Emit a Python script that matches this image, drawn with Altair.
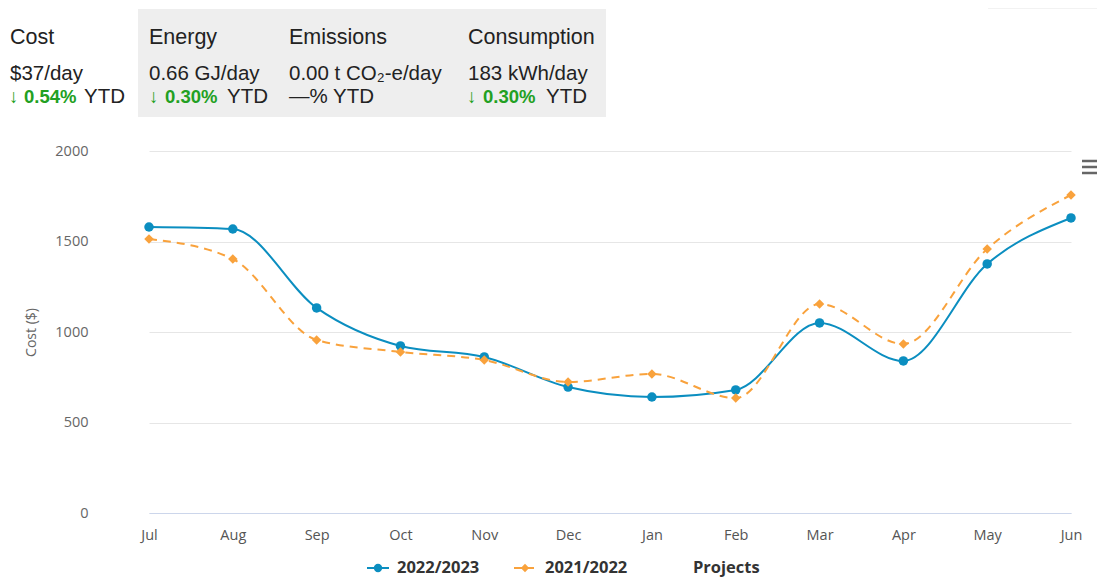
import altair as alt
import pandas as pd

months = ["Jul", "Aug", "Sep", "Oct", "Nov", "Dec", "Jan", "Feb", "Mar", "Apr", "May", "Jun"]
cost_2223 = [1580, 1569, 1133, 923, 862, 696, 641, 680, 1050, 840, 1376, 1630]
cost_2122 = [1514, 1403, 956, 890, 845, 724, 768, 635, 1155, 934, 1459, 1757]
series_names = ["2022/2023", "2021/2022"]
colors = ["#0b8ec0", "#f9a23c"]

df = pd.DataFrame(
    [{"month": m, "cost": v, "series": series_names[0]} for m, v in zip(months, cost_2223)]
    + [{"month": m, "cost": v, "series": series_names[1]} for m, v in zip(months, cost_2122)]
)

PAD_L, PAD_T, W, H = 100, 143, 989, 362
PAD_R, PAD_B = 0, 571 - 143 - 362


def px(x):  # page x -> plot x
    return x - 8 - PAD_L


def py(y):  # page y -> plot y
    return y - 8 - PAD_T


xenc = alt.X(
    "month:N", sort=months,
    scale=alt.Scale(type="point", range=[px(149), px(1071)], padding=0),
    axis=alt.Axis(title=None, labelAngle=0, labelFont="Open Sans", labelFontSize=14.5,
                  labelColor="#555555", domainColor="#ccd6eb", ticks=False,
                  labelPadding=15, grid=False),
)
yenc = alt.Y(
    "cost:Q", scale=alt.Scale(domain=[0, 2000], nice=False),
    axis=alt.Axis(title="Cost ($)", values=[0, 500, 1000, 1500, 2000], format="d",
                  labelFont="Open Sans", labelFontSize=14.5, labelColor="#666666",
                  titleFont="Open Sans", titleFontSize=14, titleFontWeight="normal",
                  titleColor="#666666", titlePadding=16, domain=False, ticks=False,
                  labelPadding=20, gridColor="#e6e6e6"),
)

base = alt.Chart(df)

blue = base.transform_filter(alt.datum.series == series_names[0])
orange = base.transform_filter(alt.datum.series == series_names[1])

blue_line = blue.mark_line(interpolate="monotone", strokeWidth=2, color=colors[0]).encode(x=xenc, y=yenc)
blue_pts = blue.mark_point(shape="circle", filled=True, size=90, opacity=1, color=colors[0]).encode(x=xenc, y=yenc)
orange_line = orange.mark_line(interpolate="monotone", strokeWidth=2, strokeDash=[8, 6],
                               color=colors[1]).encode(x=xenc, y=yenc)
orange_pts = orange.mark_point(shape="diamond", filled=True, size=90, opacity=1,
                               color=colors[1]).encode(x=xenc, y=yenc)

one = alt.Chart(pd.DataFrame({"k": [0]}))

# Header KPI panel
box = one.mark_rect(color="#eeeeee").encode(
    x=alt.value(px(138)), x2=alt.value(px(606)), y=alt.value(py(9)), y2=alt.value(py(117)))

header_texts = [
    # text, page x, page baseline y, size, weight, color
    ("Cost", 10, 44, 21.5, "normal", "#222222"),
    ("Energy", 149, 44, 21.5, "normal", "#222222"),
    ("Emissions", 289, 44, 21.5, "normal", "#222222"),
    ("Consumption", 468, 44, 21.5, "normal", "#222222"),
    ("$37/day", 10, 80, 20.5, "normal", "#222222"),
    ("0.66 GJ/day", 149, 80, 20.5, "normal", "#222222"),
    ("0.00 t CO₂-e/day", 289, 80, 20.5, "normal", "#222222"),
    ("183 kWh/day", 468, 80, 20.5, "normal", "#222222"),
    ("↓", 9, 103, 19, "normal", "#22a022"),
    ("0.54%", 24, 103, 18.5, "bold", "#22a022"),
    ("YTD", 84, 103, 20.5, "normal", "#222222"),
    ("↓", 149, 103, 19, "normal", "#22a022"),
    ("0.30%", 165, 103, 18.5, "bold", "#22a022"),
    ("YTD", 227, 103, 20.5, "normal", "#222222"),
    ("—% YTD", 289, 103, 20.5, "normal", "#222222"),
    ("↓", 467, 103, 19, "normal", "#22a022"),
    ("0.30%", 483, 103, 18.5, "bold", "#22a022"),
    ("YTD", 546, 103, 20.5, "normal", "#222222"),
]
header_layers = [
    one.mark_text(text=t, align="left", baseline="alphabetic", font="Liberation Sans",
                  fontSize=s, fontWeight=w, color=c).encode(x=alt.value(px(x)), y=alt.value(py(y)))
    for t, x, y, s, w, c in header_texts
]

top_rule = one.mark_rule(color="#e6e6e6", strokeWidth=1).encode(
    x=alt.value(px(988)), x2=alt.value(px(1097)), y=alt.value(py(8)))

menu = [
    one.mark_rule(color="#666666", strokeWidth=2.5).encode(
        x=alt.value(px(1082)), x2=alt.value(px(1097)), y=alt.value(py(yy)))
    for yy in (161, 167, 173)
]

# Legend
LY = 568
legend_layers = [
    one.mark_rule(color=colors[0], strokeWidth=2).encode(
        x=alt.value(px(367)), x2=alt.value(px(389)), y=alt.value(py(LY))),
    one.mark_point(shape="circle", filled=True, size=70, opacity=1, color=colors[0]).encode(
        x=alt.value(px(378)), y=alt.value(py(LY))),
    one.mark_text(text=series_names[0], align="left", baseline="middle", font="Open Sans",
                  fontSize=16.5, fontWeight="bold", color="#333333").encode(
        x=alt.value(px(397)), y=alt.value(py(LY))),
    one.mark_rule(color=colors[1], strokeWidth=2, strokeDash=[8, 4]).encode(
        x=alt.value(px(514)), x2=alt.value(px(537)), y=alt.value(py(LY))),
    one.mark_point(shape="diamond", filled=True, size=70, opacity=1, color=colors[1]).encode(
        x=alt.value(px(525)), y=alt.value(py(LY))),
    one.mark_text(text=series_names[1], align="left", baseline="middle", font="Open Sans",
                  fontSize=16.5, fontWeight="bold", color="#333333").encode(
        x=alt.value(px(545)), y=alt.value(py(LY))),
    one.mark_text(text="Projects", align="left", baseline="middle", font="Open Sans",
                  fontSize=16.5, fontWeight="bold", color="#333333").encode(
        x=alt.value(px(693)), y=alt.value(py(LY))),
]

chart = alt.layer(
    blue_line, orange_line, blue_pts, orange_pts, box, *header_layers, top_rule, *menu, *legend_layers
).properties(
    width=W, height=H,
    autosize=alt.AutoSizeParams(type="none"),
    padding={"left": PAD_L, "top": PAD_T, "right": PAD_R, "bottom": PAD_B},
    background="white",
).configure_view(strokeWidth=0)

chart.save("out.html", embed_options={"renderer": "svg", "actions": False})
